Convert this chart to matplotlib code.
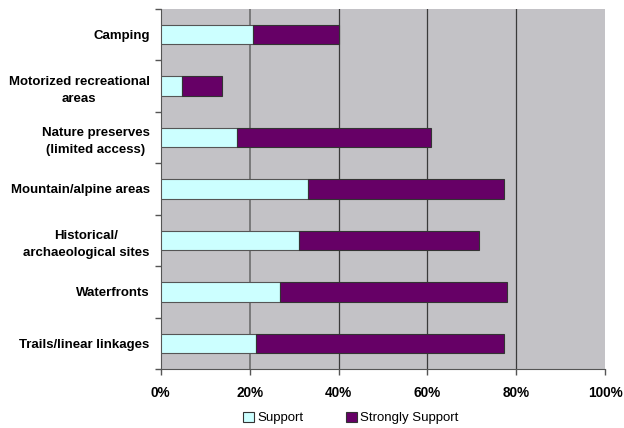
import matplotlib
matplotlib.use("Agg")
import matplotlib.pyplot as plt
from matplotlib.patches import Patch
from matplotlib.ticker import FuncFormatter, FixedLocator

categories = ["Camping", "Motorized recreational\nareas", "Nature preserves\n(limited access)",
              "Mountain/alpine areas", "Historical/\narchaeological sites", "Waterfronts",
              "Trails/linear linkages"]
support = [20.8, 4.9, 17.2, 33.1, 31.1, 26.9, 21.4]
totals = [40.0, 13.7, 60.7, 77.2, 71.7, 78.0, 77.3]
strongly = [t - s for t, s in zip(totals, support)]
series_names = ["Support", "Strongly Support"]
xticks = [0, 20, 40, 60, 80, 100]

plt.rcParams['font.family'] = ['Liberation Sans', 'DejaVu Sans']

fig = plt.figure(figsize=(6.24, 4.28), dpi=100)
ax = fig.add_axes([160.7/624, 1 - 369/428, (605.3-160.7)/624, (369-9)/428])
ax.set_facecolor('#C3C2C6')

n = len(categories)
y = list(range(n))
h = 0.38
c_sup = '#CCFFFF'
c_str = '#660066'
ax.barh(y, support, height=h, color=c_sup, edgecolor='#555555', linewidth=0.8, zorder=3)
ax.barh(y, strongly, left=support, height=h, color=c_str, edgecolor='#333333', linewidth=0.8, zorder=3)

ax.set_xlim(0, 100)
ax.set_ylim(n - 0.5, -0.5)
ax.set_xticks(xticks)
ax.xaxis.set_major_formatter(FuncFormatter(lambda v, p: f"{int(v)}%"))
ax.axvline(20, color='#7A7A7A', linewidth=1.4, zorder=1)
for xv in xticks[2:-1]:
    ax.axvline(xv, color='#3A3A3A', linewidth=0.9, zorder=1)

ax.set_yticks(y)
ax.set_yticklabels(categories, fontsize=9.5, fontweight='bold', ha='right',
                   multialignment='center', linespacing=1.6)
ax.yaxis.set_minor_locator(FixedLocator([i - 0.5 for i in range(n + 1)]))
ax.tick_params(axis='y', which='major', length=0, pad=8)
ax.tick_params(axis='y', which='minor', length=4, width=1, color='#555555')
ax.tick_params(axis='x', length=4, width=1, color='#555555', labelsize=9.8, pad=8)
for lab in ax.get_xticklabels():
    lab.set_fontweight('bold')

for s in ['top', 'right']:
    ax.spines[s].set_visible(False)
ax.spines['left'].set_color('#555555')
ax.spines['bottom'].set_color('#555555')

handles = [Patch(facecolor=c_sup, edgecolor='#333333', linewidth=0.8),
           Patch(facecolor=c_str, edgecolor='#333333', linewidth=0.8)]
fig.legend(handles, series_names, loc='center', bbox_to_anchor=(351/624, 1 - 418/428),
           ncol=2, frameon=False, fontsize=9.5, handlelength=0.8, handleheight=0.8,
           handletextpad=0.3, columnspacing=3.2)

fig.savefig("out.png", dpi=100, facecolor='white')
